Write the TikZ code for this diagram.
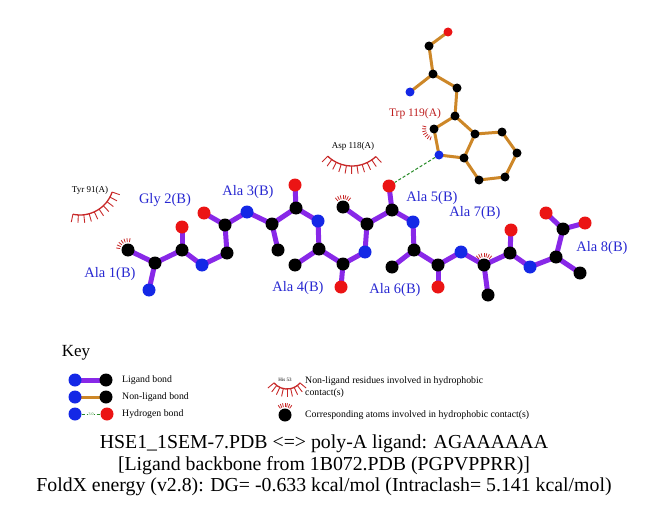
\documentclass[tikz,border=0pt]{standalone}
\usepackage{fontspec}
\setmainfont{Liberation Serif}
\usetikzlibrary{calc,backgrounds}
\definecolor{ligbond}{RGB}{136,40,232}
\definecolor{nlbond}{RGB}{205,135,40}
\definecolor{atomblue}{RGB}{20,40,230}
\definecolor{atomred}{RGB}{235,20,20}
\definecolor{labblue}{RGB}{40,40,210}
\definecolor{labred}{RGB}{190,30,30}
\definecolor{hydred}{RGB}{200,40,40}
\definecolor{hbgreen}{RGB}{40,140,40}
\tikzset{
  lat/.style={circle,inner sep=0pt,minimum size=13pt,draw=none},
  latB/.style={lat,fill=atomblue},
  latK/.style={lat,fill=black},
  latR/.style={lat,fill=atomred},
  tat/.style={circle,inner sep=0pt,minimum size=9pt,draw=none},
  tatB/.style={tat,fill=atomblue},
  tatK/.style={tat,fill=black},
  tatR/.style={tat,fill=atomred},
  lb/.style={line width=5pt,ligbond},
  nb/.style={line width=3pt,nlbond},
  hb/.style={dashed,hbgreen,line width=1pt,dash pattern=on 3pt off 2pt},
  hyd/.style={hydred,line width=0.8pt},
  alab/.style={text=labblue,font=\fontsize{14.5}{16}\selectfont,inner sep=0pt},
  rlab/.style={text=labred,font=\fontsize{11.5}{13}\selectfont,inner sep=0pt},
  klab/.style={text=black,font=\fontsize{9}{10}\selectfont,inner sep=0pt},
  keytext/.style={text=black,font=\fontsize{9.8}{11}\selectfont,inner sep=0pt,anchor=west},
  ttl/.style={text=black,font=\fontsize{19.8}{22}\selectfont,inner sep=0pt}
}
\newcommand{\hydspokes}[3]{% node, start angle, end angle
  \pgfmathsetmacro{\stp}{(#3-#2)/6}%
  \foreach \k in {0,...,6}{\draw[hyd] ($(#1.center)+({#2+\k*\stp}:8)$) -- ($(#1.center)+({#2+\k*\stp}:12)$);}%
}
\newcommand{\resarc}[6]{% center x, center y, radius, start, end, nspokes
  \draw[hydred,line width=1.3pt] ($(#1,#2)+(#4:#3)$) arc[start angle=#4,end angle=#5,radius=#3];
  \pgfmathsetmacro{\stp}{(#5-#4)/(#6-1)}%
  \pgfmathtruncatemacro{\nn}{#6-1}%
  \foreach \k in {0,...,\nn}{\draw[hydred,line width=0.9pt] ($(#1,#2)+({#4+\k*\stp}:#3)$) -- ($(#1,#2)+({#4+\k*\stp}:#3+8)$);}%
}
\begin{document}
\begin{tikzpicture}[x=1pt,y=1pt]
\useasboundingbox (0,0) rectangle (651,-511);

% ---- ligand atoms ----
\node[latB] (a1n) at (149,-290) {};
\node[latK] (a1ca) at (155,-263) {};
\node[latK] (a1cb) at (128,-250) {};
\node[latK] (a1c) at (182,-250) {};
\node[latR] (a1o) at (182,-227) {};
\node[latB] (g2n) at (202,-265) {};
\node[latK] (g2ca) at (227,-253) {};
\node[latK] (g2c) at (225,-225) {};
\node[latR] (g2o) at (204,-213) {};
\node[latB] (a3n) at (247,-212) {};
\node[latK] (a3ca) at (272,-224) {};
\node[latK] (a3cb) at (278,-250) {};
\node[latK] (a3c) at (296,-208) {};
\node[latR] (a3o) at (295,-185) {};
\node[latB] (a4n) at (318,-221) {};
\node[latK] (a4ca) at (319,-249) {};
\node[latK] (a4cb) at (295,-265) {};
\node[latK] (a4c) at (343,-264) {};
\node[latR] (a4o) at (341,-287) {};
\node[latB] (a5n) at (365,-252) {};
\node[latK] (a5ca) at (367,-224) {};
\node[latK] (a5cb) at (343,-207) {};
\node[latK] (a5c) at (392,-210) {};
\node[latR] (a5o) at (389,-186) {};
\node[latB] (a6n) at (413,-222) {};
\node[latK] (a6ca) at (414,-250) {};
\node[latK] (a6cb) at (392,-267) {};
\node[latK] (a6c) at (438,-265) {};
\node[latR] (a6o) at (438,-287) {};
\node[latB] (a7n) at (461,-252) {};
\node[latK] (a7ca) at (484,-265) {};
\node[latK] (a7cb) at (488,-295) {};
\node[latK] (a7c) at (510,-253) {};
\node[latR] (a7o) at (511,-230) {};
\node[latB] (a8n) at (530,-267) {};
\node[latK] (a8ca) at (556,-257) {};
\node[latK] (a8cb) at (580,-273) {};
\node[latK] (a8c) at (563,-229) {};
\node[latR] (a8oa) at (546,-213) {};
\node[latR] (a8ob) at (585,-223) {};

% ---- Trp 119 atoms ----
\node[tatR] (to) at (448,-32) {};
\node[tatK] (tc) at (429,-46) {};
\node[tatK] (tca) at (433,-74) {};
\node[tatB] (tn) at (410,-92) {};
\node[tatK] (tcb) at (457,-88) {};
\node[tatK] (tcg) at (455,-116) {};
\node[tatK] (tcd1) at (434,-129) {};
\node[tatB] (tne1) at (439,-155) {};
\node[tatK] (tce2) at (464,-158) {};
\node[tatK] (tcd2) at (475,-134) {};
\node[tatK] (tce3) at (502,-132) {};
\node[tatK] (tcz3) at (517,-153) {};
\node[tatK] (tch2) at (505,-177) {};
\node[tatK] (tcz2) at (479,-180) {};

% ---- Key atoms ----
\node[latB] (k1a) at (75,-380) {};
\node[latK] (k1b) at (106,-380) {};
\node[latB] (k2a) at (75,-397) {};
\node[latK] (k2b) at (106,-397) {};
\node[latB] (k3a) at (75,-414) {};
\node[latR] (k3b) at (107,-414) {};

\begin{scope}[on background layer]
  \fill[white] (0,0) rectangle (651,-511);
  \foreach \p/\q in {a1n/a1ca,a1ca/a1cb,a1ca/a1c,a1c/a1o,a1c/g2n,g2n/g2ca,g2ca/g2c,g2c/g2o,g2c/a3n,
    a3n/a3ca,a3ca/a3cb,a3ca/a3c,a3c/a3o,a3c/a4n,a4n/a4ca,a4ca/a4cb,a4ca/a4c,a4c/a4o,a4c/a5n,
    a5n/a5ca,a5ca/a5cb,a5ca/a5c,a5c/a5o,a5c/a6n,a6n/a6ca,a6ca/a6cb,a6ca/a6c,a6c/a6o,a6c/a7n,
    a7n/a7ca,a7ca/a7cb,a7ca/a7c,a7c/a7o,a7c/a8n,a8n/a8ca,a8ca/a8cb,a8ca/a8c,a8c/a8oa,a8c/a8ob}
    {\draw[lb] (\p.center) -- (\q.center);}
  \foreach \p/\q in {to/tc,tc/tca,tca/tn,tca/tcb,tcb/tcg,tcg/tcd1,tcd1/tne1,tne1/tce2,tce2/tcd2,
    tcd2/tcg,tcd2/tce3,tce3/tcz3,tcz3/tch2,tch2/tcz2,tcz2/tce2}
    {\draw[nb] (\p.center) -- (\q.center);}
  \draw[lb] (k1a.center) -- (k1b.center);
  \draw[nb] (k2a.center) -- (k2b.center);
\end{scope}

% hydrogen bond
\draw[hb] (tne1) -- (a5o);

% hydrophobic marks on atoms
\hydspokes{a1cb}{80}{170}
\hydspokes{a5cb}{50}{130}
\hydspokes{a7ca}{50}{130}
\hydspokes{tcd1}{165}{250}

% residue arcs
\resarc{352}{-131}{35}{-134}{-47}{11}
\resarc{80}{-181}{34}{-102}{-19}{10}

% labels
\node[alab] (l1) at (110,-274) {Ala 1(B)};
\node[alab] (l2) at (165,-200) {Gly 2(B)};
\node[alab] (l3) at (248,-192) {Ala 3(B)};
\node[alab] (l4) at (298,-288) {Ala 4(B)};
\node[alab] (l5) at (432,-198) {Ala 5(B)};
\node[alab] (l6) at (395,-290) {Ala 6(B)};
\node[alab] (l7) at (475,-213) {Ala 7(B)};
\node[alab] (l8) at (602,-248) {Ala 8(B)};
\node[rlab] (ltrp) at (415,-114) {Trp 119(A)};
\node[klab] (lasp) at (353,-146) {Asp 118(A)};
\node[klab] (ltyr) at (90,-190) {Tyr 91(A)};

% ---- Key ----
\node[text=black,font=\fontsize{17}{19}\selectfont,inner sep=0pt] (key) at (76,-353) {Key};
\draw[hb] (k3a) -- node[fill=white,inner sep=0.5pt,text=hbgreen,font=\fontsize{4}{4}\selectfont] {3.0} (k3b);
\node[keytext] (kt1) at (122,-380) {Ligand bond};
\node[keytext] (kt2) at (122,-397) {Non-ligand bond};
\node[keytext] (kt3) at (122,-414) {Hydrogen bond};

\node[text=black,font=\fontsize{5}{5}\selectfont,inner sep=0pt] (khis) at (285,-380) {His 53};
\resarc{287}{-372}{17}{-140}{-40}{9}
\node[latK] (khyd) at (285,-415) {};
\hydspokes{khyd}{55}{125}
\node[keytext] (kt4) at (305,-381) {Non-ligand residues involved in hydrophobic};
\node[keytext] (kt5) at (305,-393) {contact(s)};
\node[keytext] (kt6) at (305,-415) {Corresponding atoms involved in hydrophobic contact(s)};

% ---- title ----
\node[ttl] (t1) at (324,-444) {HSE1\_1SEM-7.PDB <=> poly-A ligand: AGAAAAAA};
\node[ttl] (t2) at (324,-466) {[Ligand backbone from 1B072.PDB (PGPVPPRR)]};
\node[ttl] (t3) at (324,-487) {FoldX energy (v2.8): DG= -0.633 kcal/mol (Intraclash= 5.141 kcal/mol)};
\end{tikzpicture}
\end{document}
